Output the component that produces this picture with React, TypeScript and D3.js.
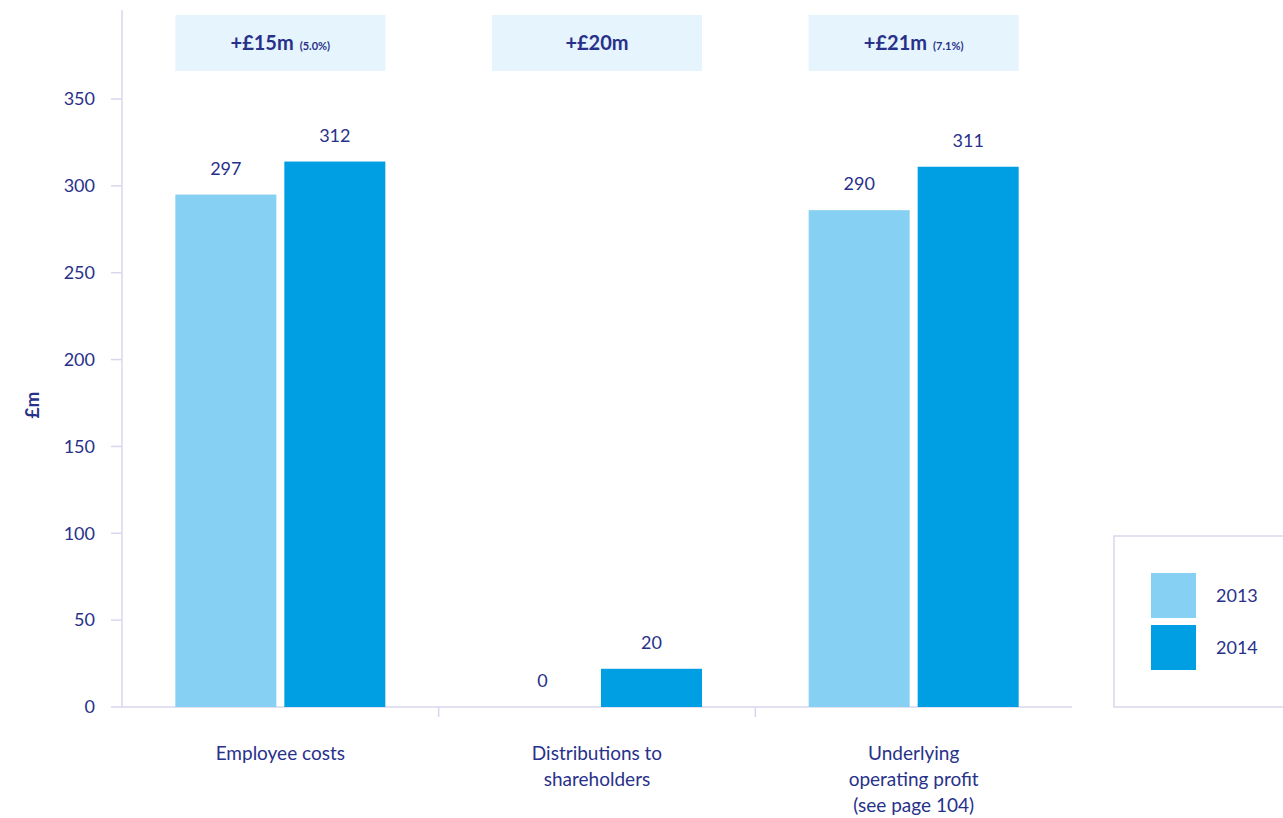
import React from "react";
import * as d3 from "d3";

const categories = ["Employee costs", "Distributions to\nshareholders", "Underlying\noperating profit\n(see page 104)"];
const years = ["2013", "2014"];
const values2013 = [295, 0, 286];
const values2014 = [314, 22, 311];
const labels2013 = ["297", "0", "290"];
const labels2014 = ["312", "20", "311"];
const changeMain = ["+£15m", "+£20m", "+£21m"];
const changeSub = ["(5.0%)", "", "(7.1%)"];
const yTicks = [0, 50, 100, 150, 200, 250, 300, 350];

const TEXT = "#28318a";
const AXIS = "#d8d7ee";
const C13 = "#86d0f4";
const C14 = "#009fe3";
const BOX = "#e6f4fd";
const FONT = "Lato, 'Open Sans', sans-serif";

export default function App() {
  const W = 1283, H = 818;
  const x0 = 122, x1 = 1072, yBase = 707;
  const x = d3.scaleBand<string>().domain(categories).range([x0, x1]);
  const y = d3.scaleLinear().domain([0, 350]).range([yBase, 99]);
  const barW = 101, gap = 8;
  const series = [
    { year: years[0], vals: values2013, labels: labels2013, color: C13 },
    { year: years[1], vals: values2014, labels: labels2014, color: C14 },
  ];
  return (
    <svg width={W} height={H} style={{ position: "absolute", left: 0, top: 0, fontFamily: FONT }}>
      {/* axes */}
      <line x1={x0} x2={x0} y1={10} y2={yBase} stroke={AXIS} strokeWidth={1.5} />
      <line x1={x0} x2={x1} y1={yBase} y2={yBase} stroke={AXIS} strokeWidth={1.5} />
      {categories.slice(1).map((c) => (
        <line key={c} x1={x(c)!} x2={x(c)!} y1={yBase} y2={yBase + 10} stroke={AXIS} strokeWidth={1.5} />
      ))}
      {yTicks.map((t) => (
        <g key={t}>
          <line x1={x0 - 11} x2={x0} y1={y(t)} y2={y(t)} stroke={AXIS} strokeWidth={1.5} />
          <text x={95} y={y(t)} dy="0.35em" textAnchor="end" fontSize={18} fill={TEXT}>{t}</text>
        </g>
      ))}
      <text transform={`translate(39,${405}) rotate(-90)`} textAnchor="middle" fontSize={19} fontWeight="bold" fill={TEXT}>£m</text>

      {/* change boxes */}
      {categories.map((c, i) => {
        const cx = x(c)! + x.bandwidth() / 2;
        const left = cx - gap / 2 - barW;
        return (
          <g key={c}>
            <rect x={left} y={15} width={barW * 2 + gap} height={56} fill={BOX} />
            <text x={cx} y={50} textAnchor="middle" fill={TEXT}>
              <tspan fontSize={20} fontWeight="bold">{changeMain[i]}</tspan>
              {changeSub[i] && <tspan fontSize={11} fontWeight="bold" dx={6}>{changeSub[i]}</tspan>}
            </text>
          </g>
        );
      })}

      {/* bars */}
      {categories.map((c, i) => {
        const cx = x(c)! + x.bandwidth() / 2;
        return series.map((s, j) => {
          const bx = j === 0 ? cx - gap / 2 - barW : cx + gap / 2;
          const v = s.vals[i];
          return (
            <g key={c + s.year}>
              {v > 0 && <rect x={bx} y={y(v)} width={barW} height={yBase - y(v)} fill={s.color} />}
              <text x={bx + barW / 2} y={y(v) - 20} textAnchor="middle" fontSize={18} fill={TEXT}>{s.labels[i]}</text>
            </g>
          );
        });
      })}

      {/* category labels */}
      {categories.map((c) => {
        const cx = x(c)! + x.bandwidth() / 2;
        return (
          <text key={c} x={cx} y={760} textAnchor="middle" fontSize={19} fill={TEXT}>
            {c.split("\n").map((ln, k) => (
              <tspan key={k} x={cx} dy={k === 0 ? 0 : 26}>{ln}</tspan>
            ))}
          </text>
        );
      })}

      {/* legend */}
      <rect x={1114} y={536} width={180} height={171} fill="#fff" stroke={AXIS} strokeWidth={1.5} />
      {series.map((s, j) => (
        <g key={s.year}>
          <rect x={1151} y={573 + j * 52} width={45} height={45} fill={s.color} />
          <text x={1216} y={596 + j * 52} dy="0.35em" fontSize={18} fill={TEXT}>{s.year}</text>
        </g>
      ))}
    </svg>
  );
}
